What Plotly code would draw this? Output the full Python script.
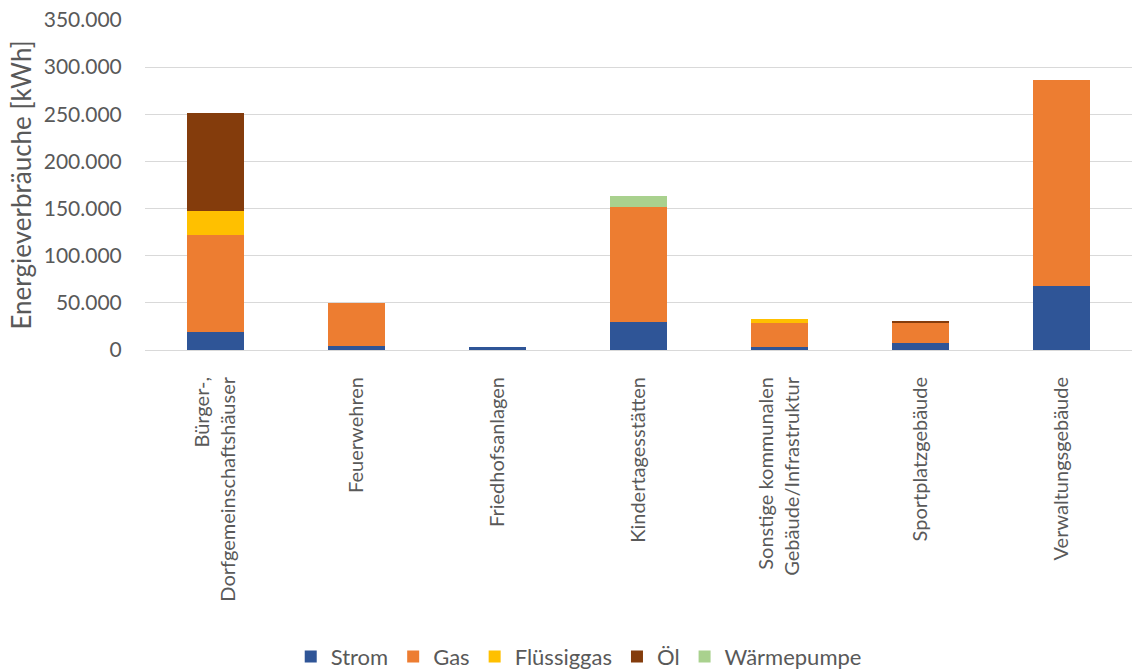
import plotly.graph_objects as go

categories = ["Bürger-,<br>Dorfgemeinschaftshäuser", "Feuerwehren", "Friedhofsanlagen",
              "Kindertagesstätten", "Sonstige kommunalen<br>Gebäude/Infrastruktur",
              "Sportplatzgebäude", "Verwaltungsgebäude"]
strom = [19500, 4600, 3200, 30000, 3000, 7000, 68200]
gas = [103000, 45500, 0, 121600, 25200, 22500, 218000]
fluessiggas = [24700, 0, 0, 0, 4300, 0, 0]
oel = [104000, 0, 0, 0, 0, 500, 0]
waermepumpe = [0, 0, 0, 11700, 0, 0, 0]

series = [("Strom", strom, "#2F5597"), ("Gas", gas, "#ED7D31"),
          ("Flüssiggas", fluessiggas, "#FFC000"), ("Öl", oel, "#843C0C"),
          ("Wärmepumpe", waermepumpe, "#A9D18E")]

fig = go.Figure()
for name, vals, col in series:
    fig.add_trace(go.Bar(x=categories, y=vals, name=name, marker_color=col,
                         marker_line_width=0, width=0.405))

font_fam = "Lato, 'Open Sans', sans-serif"
fig.update_layout(
    barmode="stack",
    separators=",.",
    width=1146, height=670,
    margin=dict(l=145, r=14, t=20, b=320, autoexpand=False),
    plot_bgcolor="white", paper_bgcolor="white",
    font=dict(family=font_fam, size=21, color="#595959"),
    legend=dict(orientation="h", x=0.505, xref="container", xanchor="center",
                y=0.02, yref="container", yanchor="middle",
                font=dict(size=22, color="#595959"), traceorder="normal",
                itemwidth=30, tracegroupgap=0),
    bargap=0.6,
)
fig.update_yaxes(range=[0, 350000], dtick=50000, tickformat=",d",
                 showgrid=True, gridcolor="#d9d9d9", gridwidth=1,
                 zeroline=False, showline=False, automargin=False,
                 ticks="outside", ticklen=18, tickcolor="rgba(0,0,0,0)",
                 tickfont=dict(size=21, color="#595959"),
                 title=dict(text="Energieverbräuche [kWh]", font=dict(size=26, color="#595959"),
                            standoff=4))
fig.update_xaxes(tickangle=-90, showline=True, linecolor="#d9d9d9", linewidth=1,
                 automargin=False,
                 ticks="outside", ticklen=18, tickcolor="rgba(0,0,0,0)",
                 tickfont=dict(size=20, color="#595959"))

fig.write_html("out.html")
